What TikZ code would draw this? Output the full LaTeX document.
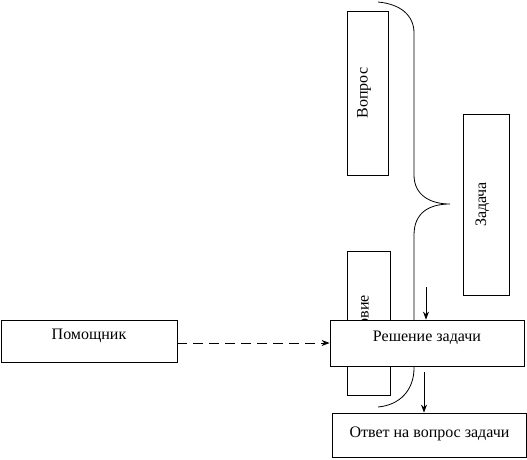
\documentclass[tikz,border=0pt]{standalone}
\usepackage{fontspec}
\setmainfont{Liberation Serif}
\usetikzlibrary{positioning,arrows.meta,calc}

\tikzset{
  blok/.style={draw, line width=0.8pt, fill=white, inner sep=0pt,
    font=\fontsize{16}{18}\selectfont},
  stojka/.style={blok, rotate=90, text height=11pt, text depth=11pt},
  arr/.style={-{Stealth[length=8pt,width=6pt]}, line width=0.8pt},
}

\begin{document}
\begin{tikzpicture}[x=1pt, y=-1pt]
        \useasboundingbox (0,0) rectangle (527,459);
        % Boxes behind
        \node[stojka, minimum width=144pt, minimum height=43pt] (usl) at (368.5,323) {Условие};
        \node[stojka, minimum width=164pt, minimum height=41pt] (vopr) at (367.5,93) {Вопрос};
        \node[stojka, minimum width=181pt, minimum height=46pt] (zad) at (486,204.5) {Задача};
        
        % Brace
        \draw[line width=0.8pt] (378,2) .. controls (400,4) and (414,15) .. (414,33)
            -- (414,175) .. controls (414,195) and (430,204) .. (450,204)
            .. controls (430,204) and (414,212) .. (414,235)
            -- (414,368) .. controls (414,390) and (400,405) .. (378,407);
        
        % Main boxes
        \node[blok, minimum width=194pt, minimum height=46pt, text height=11pt, text depth=15pt] (resh) at (427,343) {Решение задачи};
        \node[blok, minimum width=194pt, minimum height=44pt, text height=11pt, text depth=6pt] (otv) at (429.5,435) {Ответ на вопрос задачи};
        \node[blok, minimum width=176pt, minimum height=42pt, text height=11pt, text depth=15pt] (pom) at (89,341) {Помощник};
        
        % Arrows
        \draw[arr, dashed, dash pattern=on 10pt off 6pt] (pom.east |- resh) -- (resh.west);
        \coordinate (vhod) at (426,287);
        \draw[arr] (vhod) -- (vhod |- resh.north);
        \coordinate (vyhod) at (424,372);
        \draw[arr] (vyhod) -- (vyhod |- otv.north);
    \end{tikzpicture}
\end{document}
